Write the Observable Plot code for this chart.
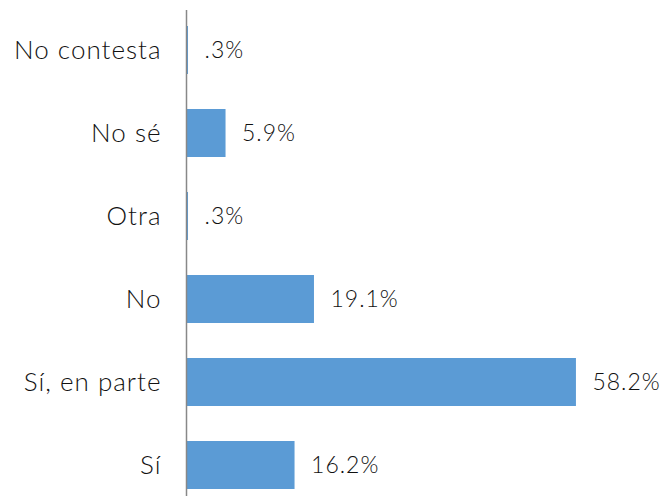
<!DOCTYPE html>
<html><head><meta charset="utf-8">
<script src="https://cdn.jsdelivr.net/npm/d3@7"></script>
<script src="https://cdn.jsdelivr.net/npm/@observablehq/plot@0.6"></script>
<style>
body{margin:0;background:#fff;}
#chart svg text{letter-spacing:1px;font-weight:300;}
</style>
</head><body><div id="chart"></div>
<script>
const categories = ["No contesta","No sé","Otra","No","Sí, en parte","Sí"];
const values = [0.3, 5.9, 0.3, 19.1, 58.2, 16.2];
const data = categories.map((c,i)=>({cat:c, v:values[i]}));
const fmt = v => (v < 1 ? String(v).replace(/^0/,"") : v.toFixed(1)) + "%";
const chart = Plot.plot({
  width: 662, height: 496,
  marginLeft: 186, marginRight: 0, marginTop: 10, marginBottom: 0,
  style: {fontSize: "24px", color: "#111", fontFamily: "Lato, sans-serif"},
  x: {domain: [0, 70], range: [186, 655], axis: null},
  y: {domain: categories, range: [8.5, 506.5], paddingInner: 0.42, paddingOuter: 0.21, axis: null},
  marks: [
    Plot.barX(data, {x: "v", y: "cat", fill: "#5b9bd5"}),
    Plot.axisY({tickSize: 0, tickPadding: 25, fontSize: 26, fill: "#111", label: null}),
    Plot.text(data, {x: "v", y: "cat", text: d => fmt(d.v), textAnchor: "start", dx: 16, fontSize: 23, fill: "#111"}),
    Plot.ruleX([0], {stroke: "#888", strokeWidth: 1.5})
  ]
});
document.getElementById("chart").appendChild(chart);
</script></body></html>
